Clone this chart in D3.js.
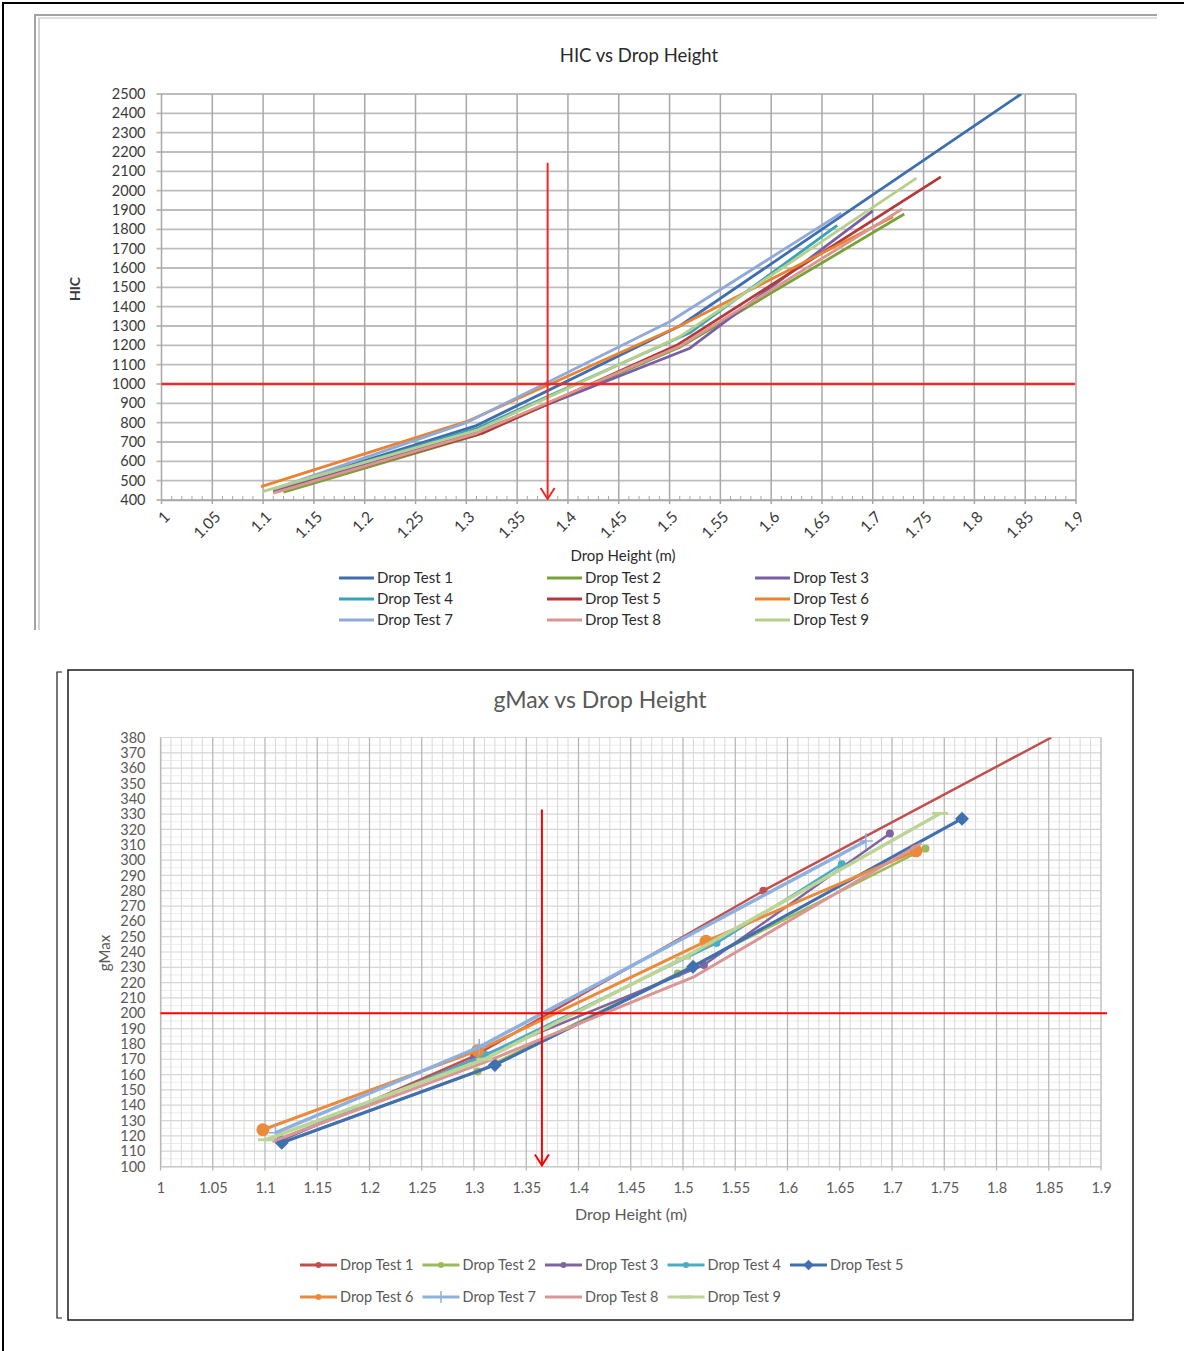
<!DOCTYPE html>
<html>
<head>
<meta charset="utf-8">
<title>HIC / gMax vs Drop Height</title>
<script src="https://cdn.jsdelivr.net/npm/d3@7"></script>
<style>
    body { margin: 0; background: #ffffff; }
    svg { display: block; }
    text { font-family: Lato, 'Open Sans', sans-serif; }
</style>
</head>
<body>
<div id="page"></div>
<script>

//--- Daten ------------------------------------------------------------------------------------------------ //

var seriesNames = ['Drop Test 1', 'Drop Test 2', 'Drop Test 3', 'Drop Test 4', 'Drop Test 5',
                   'Drop Test 6', 'Drop Test 7', 'Drop Test 8', 'Drop Test 9'];

var heightTicks = [1, 1.05, 1.1, 1.15, 1.2, 1.25, 1.3, 1.35, 1.4, 1.45, 1.5, 1.55, 1.6, 1.65, 1.7, 1.75, 1.8, 1.85, 1.9];

// HIC chart
var hicTicks = [400, 500, 600, 700, 800, 900, 1000, 1100, 1200, 1300, 1400, 1500, 1600, 1700, 1800, 1900, 2000, 2100, 2200, 2300, 2400, 2500];
var hicHeights = [
    [1.11, 1.31, 1.51, 1.846],
    [1.12, 1.31, 1.51, 1.731],
    [1.11, 1.31, 1.52, 1.70],
    [1.11, 1.31, 1.52, 1.665],
    [1.11, 1.316, 1.507, 1.767],
    [1.098, 1.30, 1.51, 1.72],
    [1.11, 1.30, 1.50, 1.669],
    [1.11, 1.31, 1.51, 1.729],
    [1.10, 1.31, 1.51, 1.743]
];
var hicValues = [
    [455, 785, 1300, 2500],
    [440, 735, 1190, 1879],
    [445, 750, 1185, 1895],
    [455, 770, 1265, 1820],
    [440, 746, 1200, 2071],
    [469, 805, 1300, 1865],
    [455, 800, 1322, 1884],
    [436, 745, 1195, 1905],
    [445, 760, 1245, 2065]
];
var hicLimit = 1000;
var hicLimitHeight = 1.38;
var hicArrowTop = 2145;

// gMax chart
var gmaxTicks = [100, 110, 120, 130, 140, 150, 160, 170, 180, 190, 200, 210, 220, 230, 240, 250, 260, 270, 280, 290, 300, 310, 320, 330, 340, 350, 360, 370, 380];
var gmaxHeights = [
    [1.115, 1.30, 1.577, 1.8525],
    [1.116, 1.3035, 1.495, 1.732],
    [1.115, 1.30, 1.52, 1.698],
    [1.115, 1.311, 1.532, 1.652],
    [1.116, 1.32, 1.5096, 1.767],
    [1.098, 1.3035, 1.522, 1.723],
    [1.11, 1.305, 1.675],
    [1.107, 1.31, 1.511, 1.728],
    [1.101, 1.31, 1.50, 1.746]
];
var gmaxValues = [
    [117, 172, 280, 380],
    [115.5, 162, 226, 307.6],
    [117, 170, 231.5, 317.3],
    [118, 172.8, 245.8, 297.3],
    [115.5, 166.3, 230.4, 327],
    [124, 175.6, 247, 306],
    [122, 178, 312.5],
    [116.3, 168, 224, 311],
    [117.5, 170, 236, 330.4]
];
var gmaxLimit = 200;
var gmaxLimitHeight = 1.365;
var gmaxArrowTop = 333;


var App = {
    Context: {
        Configuration: {
            Width: 1184,
            Height: 1351,
            HicColors: ['#3e6eae', '#78a23a', '#7a5ea5', '#3ba0b9', '#b23a3a', '#ea8331', '#8fa9d8', '#dc9692', '#b5d08c'],
            GmaxColors: ['#c0504d', '#9bbb59', '#8064a2', '#4bacc6', '#4070b0', '#ec8a3c', '#8eb0de', '#d99694', '#bcd496'],
            GmaxMarkers: ['circle', 'circle', 'circle', 'circle', 'diamond', 'bigcircle', 'plus', 'none', 'dash'],
            GmaxWidths: [2.5, 2.5, 2.5, 2.5, 3.2, 3, 3.5, 3, 3.5]
        }
    }
};

var fmtTick = function (d) { return String(+d.toFixed(2)); };
var fmtInt = function (d) { return String(d); };

var svg = d3.select('#page').append('svg')
    .attr('width', App.Context.Configuration.Width)
    .attr('height', App.Context.Configuration.Height);

// Seitenrahmen
svg.append('line').attr('x1', 2).attr('y1', 3).attr('x2', 1184).attr('y2', 3).attr('stroke', '#000').attr('stroke-width', 2);
svg.append('line').attr('x1', 3).attr('y1', 2).attr('x2', 3).attr('y2', 1351).attr('stroke', '#000').attr('stroke-width', 2);


//--- Pfeil (rote Linie nach unten) --------------------------------------------------------------------- //

function renderArrow(g, px, yTop, yBottom, color, width) {
    g.append('line')
        .attr('x1', px).attr('x2', px)
        .attr('y1', yTop).attr('y2', yBottom - 1)
        .attr('stroke', color).attr('stroke-width', width);
    g.append('path')
        .attr('d', 'M' + (px - 7) + ',' + (yBottom - 12) + 'L' + px + ',' + (yBottom - 1) + 'L' + (px + 7) + ',' + (yBottom - 12))
        .attr('fill', 'none').attr('stroke', color).attr('stroke-width', width);
}


//--- HIC Diagramm ------------------------------------------------------------------------------------------ //

function renderHic() {

    var conf = App.Context.Configuration;
    var g = svg.append('g').attr('id', 'hic');

    // grauer Rahmen
    g.append('line').attr('x1', 34).attr('y1', 15).attr('x2', 1157).attr('y2', 15).attr('stroke', '#a3a3a3').attr('stroke-width', 2);
    g.append('line').attr('x1', 38).attr('y1', 18).attr('x2', 1157).attr('y2', 18).attr('stroke', '#d4d4d4').attr('stroke-width', 1.5);
    g.append('line').attr('x1', 35).attr('y1', 14).attr('x2', 35).attr('y2', 630).attr('stroke', '#a3a3a3').attr('stroke-width', 2);
    g.append('line').attr('x1', 39).attr('y1', 18).attr('x2', 39).attr('y2', 630).attr('stroke', '#d4d4d4').attr('stroke-width', 2);

    var x = d3.scaleLinear().domain([1, 1.9]).range([161.5, 1076]);
    var y = d3.scaleLinear().domain([400, 2500]).range([500, 94]);

    // Gitter
    g.append('g').selectAll('line').data(hicTicks).enter().append('line')
        .attr('x1', x(1) - 5).attr('x2', x(1.9))
        .attr('y1', function (d) { return y(d); }).attr('y2', function (d) { return y(d); })
        .attr('stroke', '#bdbdbd').attr('stroke-width', 1.8);
    g.append('g').selectAll('line').data(heightTicks).enter().append('line')
        .attr('x1', function (d) { return x(d); }).attr('x2', function (d) { return x(d); })
        .attr('y1', y(2500)).attr('y2', y(400) + 4)
        .attr('stroke', '#a8a8a8').attr('stroke-width', 1.5);

    // kleine Striche auf der x-Achse
    var minor = d3.range(100, 191).filter(function (i) { return i % 5 !== 0; }).map(function (i) { return i / 100; });
    g.append('g').selectAll('line').data(minor).enter().append('line')
        .attr('x1', function (d) { return x(d); }).attr('x2', function (d) { return x(d); })
        .attr('y1', y(400) - 4).attr('y2', y(400))
        .attr('stroke', '#a8a8a8').attr('stroke-width', 1);

    // Achsen
    var yAxis = g.append('g').attr('transform', 'translate(' + x(1) + ',0)')
        .call(d3.axisLeft(y).tickValues(hicTicks).tickSize(0).tickPadding(16).tickFormat(fmtInt));
    yAxis.select('.domain').remove();
    yAxis.selectAll('text').attr('font-size', '14.5px').attr('fill', '#3a3a3a');

    var xAxis = g.append('g').attr('transform', 'translate(0,' + y(400) + ')')
        .call(d3.axisBottom(x).tickValues(heightTicks).tickSize(0).tickFormat(fmtTick));
    xAxis.select('.domain').attr('stroke', '#a8a8a8').attr('stroke-width', 1.5);
    xAxis.selectAll('text')
        .attr('font-size', '15.5px').attr('fill', '#3a3a3a')
        .attr('text-anchor', 'end')
        .attr('transform', 'translate(5,14) rotate(-45)')
        .attr('x', 0).attr('y', 0).attr('dy', '0.35em');

    g.append('clipPath').attr('id', 'clipHic').append('rect')
        .attr('x', x(1)).attr('y', y(2500)).attr('width', x(1.9) - x(1)).attr('height', y(400) - y(2500));

    // Linien
    var line = d3.line()
        .x(function (d) { return x(d[0]); })
        .y(function (d) { return y(d[1]); });

    var lines = g.append('g').attr('clip-path', 'url(#clipHic)');
    for (var i = 0; i < seriesNames.length; i++) {
        var pts = hicHeights[i].map(function (h, k) { return [h, hicValues[i][k]]; });
        lines.append('path')
            .attr('d', line(pts))
            .attr('fill', 'none')
            .attr('stroke', conf.HicColors[i])
            .attr('stroke-width', 2.8)
            .attr('stroke-linejoin', 'round');
    }

    // Grenzwert
    g.append('line')
        .attr('x1', x(1)).attr('x2', x(1.9) - 1)
        .attr('y1', y(hicLimit)).attr('y2', y(hicLimit))
        .attr('stroke', '#ea2b2b').attr('stroke-width', 2.5);
    renderArrow(g, x(hicLimitHeight), y(hicArrowTop), y(400), '#f02828', 2);

    // Texte
    g.append('text').attr('x', 639).attr('y', 62).attr('text-anchor', 'middle')
        .attr('font-size', '18.5px').attr('fill', '#2b2b2b').text('HIC vs Drop Height');
    g.append('text').attr('transform', 'translate(80,289) rotate(-90)').attr('text-anchor', 'middle')
        .attr('font-size', '14px').attr('font-weight', 'bold').attr('fill', '#3a3a3a').text('HIC');
    g.append('text').attr('x', 623).attr('y', 561).attr('text-anchor', 'middle')
        .attr('font-size', '15px').attr('fill', '#2b2b2b').text('Drop Height (m)');

    // Legende
    var legX = [339, 547, 755];
    var legY = [578, 599, 620];
    for (var j = 0; j < seriesNames.length; j++) {
        var lx = legX[j % 3], ly = legY[Math.floor(j / 3)];
        g.append('line').attr('x1', lx).attr('x2', lx + 35).attr('y1', ly).attr('y2', ly)
            .attr('stroke', conf.HicColors[j]).attr('stroke-width', 3);
        g.append('text').attr('x', lx + 38).attr('y', ly).attr('dy', '0.35em')
            .attr('font-size', '15px').attr('fill', '#2b2b2b').text(seriesNames[j]);
    }
}


//--- Marker zeichnen --------------------------------------------------------------------------------------- //

function renderMarker(g, type, px, py, color, size) {
    var s = size || 1;
    switch (type) {
        case 'circle':
            g.append('circle').attr('cx', px).attr('cy', py).attr('r', 4 * s).attr('fill', color);
            break;
        case 'bigcircle':
            g.append('circle').attr('cx', px).attr('cy', py).attr('r', 6.5 * s).attr('fill', color);
            break;
        case 'diamond':
            var r = 7 * s;
            g.append('path').attr('d', 'M' + px + ',' + (py - r) + 'L' + (px + r) + ',' + py + 'L' + px + ',' + (py + r) + 'L' + (px - r) + ',' + py + 'Z')
                .attr('fill', color);
            break;
        case 'plus':
            g.append('path').attr('d', 'M' + px + ',' + (py - 8 * s) + 'V' + (py + 8 * s) + 'M' + (px - 7 * s) + ',' + py + 'H' + (px + 7 * s))
                .attr('stroke', color).attr('stroke-width', 1.5);
            break;
        case 'dash':
            g.append('line').attr('x1', px - 8 * s).attr('x2', px + 8 * s).attr('y1', py).attr('y2', py)
                .attr('stroke', color).attr('stroke-width', 3);
            break;
    }
}


//--- gMax Diagramm ----------------------------------------------------------------------------------------- //

function renderGmax() {

    var conf = App.Context.Configuration;
    var g = svg.append('g').attr('id', 'gmax');

    // Rahmen
    g.append('rect').attr('x', 68).attr('y', 670).attr('width', 1065).attr('height', 650)
        .attr('fill', '#fff').attr('stroke', '#1a1a1a').attr('stroke-width', 1.5);
    g.append('path').attr('d', 'M62,672H57V1318H62').attr('fill', 'none').attr('stroke', '#1a1a1a').attr('stroke-width', 1.2);

    var x = d3.scaleLinear().domain([1, 1.9]).range([160.5, 1101]);
    var y = d3.scaleLinear().domain([100, 380]).range([1166.5, 737.5]);

    // Gitter fein
    var minorY = d3.range(105, 380, 10);
    g.append('g').selectAll('line').data(minorY).enter().append('line')
        .attr('x1', x(1)).attr('x2', x(1.9))
        .attr('y1', function (d) { return y(d); }).attr('y2', function (d) { return y(d); })
        .attr('stroke', '#ececec').attr('stroke-width', 1);
    var minorX = d3.range(100, 191).filter(function (i) { return i % 5 !== 0; }).map(function (i) { return i / 100; });
    g.append('g').selectAll('line').data(minorX).enter().append('line')
        .attr('x1', function (d) { return x(d); }).attr('x2', function (d) { return x(d); })
        .attr('y1', y(380)).attr('y2', y(100))
        .attr('stroke', '#d9d9d9').attr('stroke-width', 1);

    // Gitter grob
    g.append('g').selectAll('line').data(gmaxTicks).enter().append('line')
        .attr('x1', x(1)).attr('x2', x(1.9))
        .attr('y1', function (d) { return y(d); }).attr('y2', function (d) { return y(d); })
        .attr('stroke', '#d6d6d6').attr('stroke-width', 1.2);
    g.append('g').selectAll('line').data(heightTicks).enter().append('line')
        .attr('x1', function (d) { return x(d); }).attr('x2', function (d) { return x(d); })
        .attr('y1', y(380)).attr('y2', y(100) + 4)
        .attr('stroke', '#b3b3b3').attr('stroke-width', 1.2);

    // Achsen
    var yAxis = g.append('g').attr('transform', 'translate(' + x(1) + ',0)')
        .call(d3.axisLeft(y).tickValues(gmaxTicks).tickSize(0).tickPadding(15).tickFormat(fmtInt));
    yAxis.select('.domain').attr('stroke', '#bfbfbf');
    yAxis.selectAll('text').attr('font-size', '14.5px').attr('fill', '#595959');

    var xAxis = g.append('g').attr('transform', 'translate(0,' + y(100) + ')')
        .call(d3.axisBottom(x).tickValues(heightTicks).tickSize(0).tickPadding(16).tickFormat(fmtTick));
    xAxis.select('.domain').attr('stroke', '#bfbfbf');
    xAxis.selectAll('text').attr('font-size', '14.5px').attr('fill', '#595959');

    g.append('clipPath').attr('id', 'clipGmax').append('rect')
        .attr('x', x(1)).attr('y', y(380)).attr('width', x(1.9) - x(1)).attr('height', y(100) - y(380));

    var line = d3.line()
        .x(function (d) { return x(d[0]); })
        .y(function (d) { return y(d[1]); });

    var lines = g.append('g').attr('clip-path', 'url(#clipGmax)');
    for (var i = 0; i < seriesNames.length; i++) {
        var pts = gmaxHeights[i].map(function (h, k) { return [h, gmaxValues[i][k]]; });
        lines.append('path')
            .attr('d', line(pts))
            .attr('fill', 'none')
            .attr('stroke', conf.GmaxColors[i])
            .attr('stroke-width', conf.GmaxWidths[i])
            .attr('stroke-linejoin', 'round');
        for (var k = 0; k < pts.length; k++) {
            if (pts[k][1] < 380) {
                renderMarker(lines, conf.GmaxMarkers[i], x(pts[k][0]), y(pts[k][1]), conf.GmaxColors[i]);
            }
        }
    }

    // Grenzwert
    g.append('line')
        .attr('x1', x(1)).attr('x2', x(1.9) + 6)
        .attr('y1', y(gmaxLimit)).attr('y2', y(gmaxLimit))
        .attr('stroke', '#ff0000').attr('stroke-width', 2);
    renderArrow(g, x(gmaxLimitHeight), y(gmaxArrowTop), y(100), '#ff0000', 2);

    // Texte
    g.append('text').attr('x', 600).attr('y', 708).attr('text-anchor', 'middle')
        .attr('font-size', '23px').attr('fill', '#595959').text('gMax vs Drop Height');
    g.append('text').attr('transform', 'translate(110,953) rotate(-90)').attr('text-anchor', 'middle')
        .attr('font-size', '15px').attr('fill', '#595959').text('gMax');
    g.append('text').attr('x', 631).attr('y', 1220).attr('text-anchor', 'middle')
        .attr('font-size', '16px').attr('fill', '#595959').text('Drop Height (m)');

    // Legende
    var legY = [1265, 1297];
    for (var j = 0; j < seriesNames.length; j++) {
        var row = j < 5 ? 0 : 1;
        var col = j < 5 ? j : j - 5;
        var lx = 300 + col * 122.5, ly = legY[row];
        g.append('line').attr('x1', lx).attr('x2', lx + 37).attr('y1', ly).attr('y2', ly)
            .attr('stroke', conf.GmaxColors[j]).attr('stroke-width', 3);
        renderMarker(g, conf.GmaxMarkers[j] === 'bigcircle' ? 'circle' : conf.GmaxMarkers[j], lx + 18.5, ly, conf.GmaxColors[j], 0.75);
        g.append('text').attr('x', lx + 40).attr('y', ly).attr('dy', '0.35em')
            .attr('font-size', '14.5px').attr('fill', '#595959').text(seriesNames[j]);
    }
}


//--- Start ---------------------------------------------------------------------------------------------------- //

renderHic();
renderGmax();

</script>
</body>
</html>
